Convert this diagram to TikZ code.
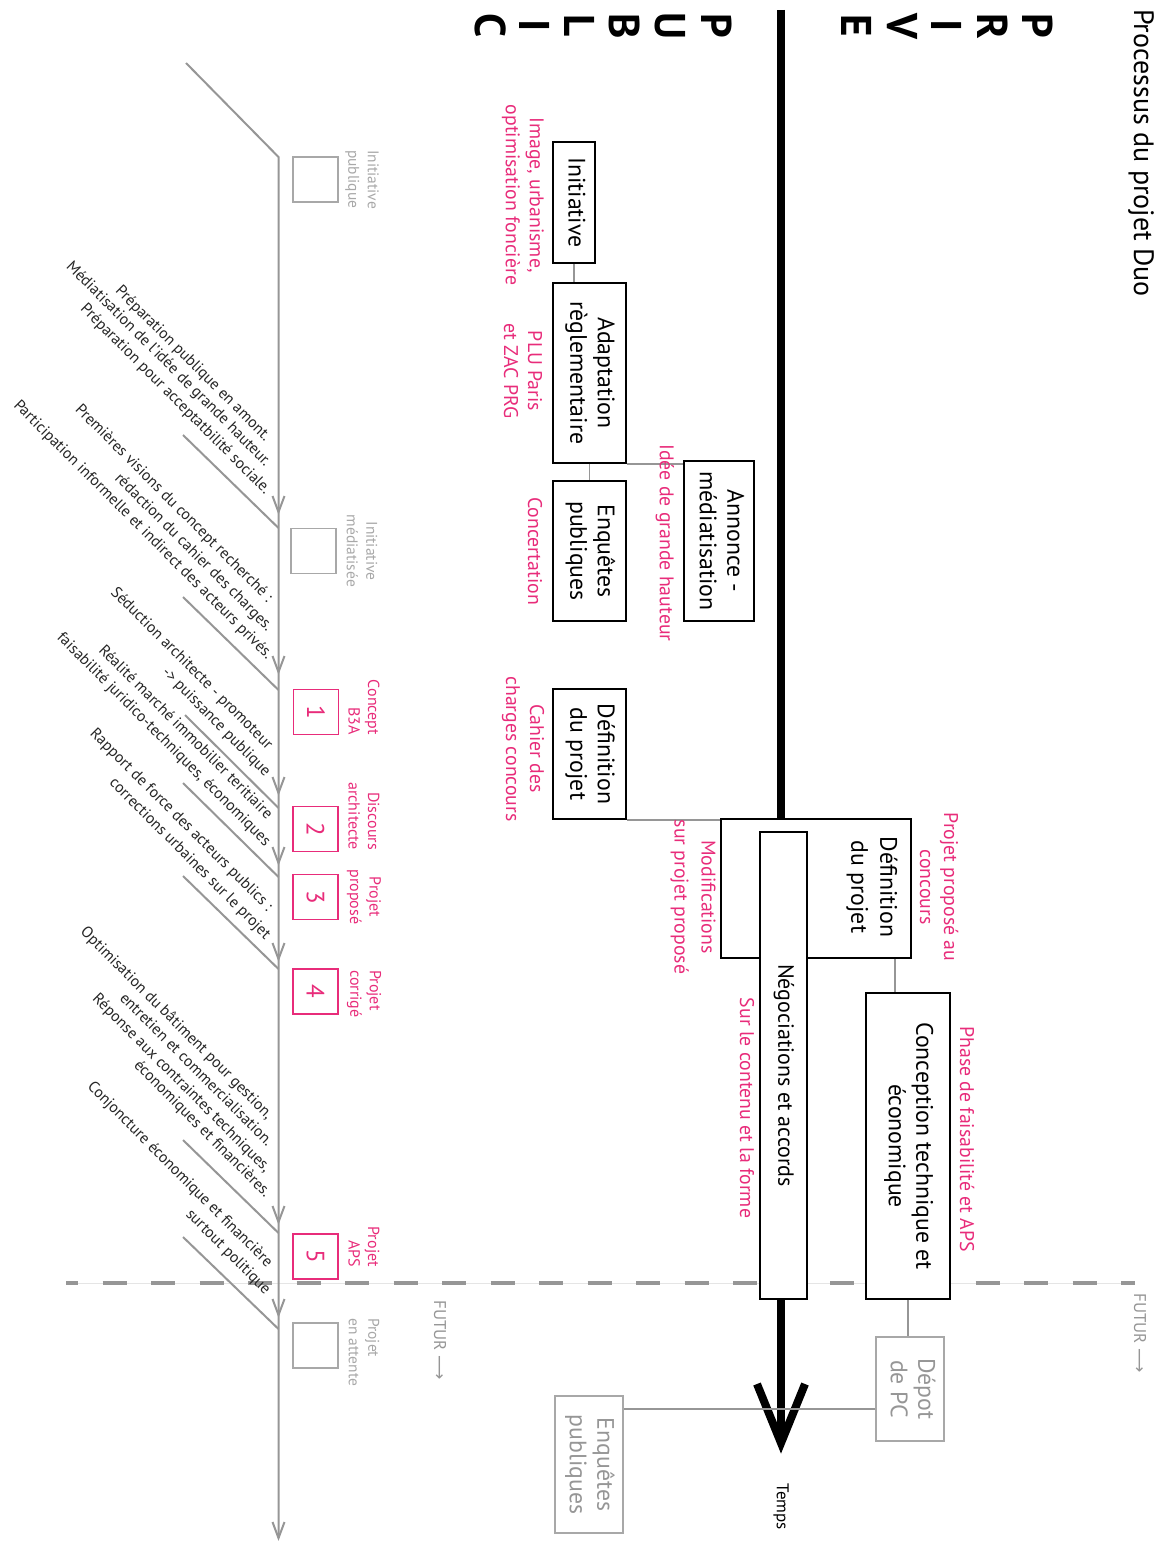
\documentclass[tikz,border=0pt]{standalone}
\usepackage{fontspec}
\setmainfont{PT Sans}
\newfontfamily\symfont{DejaVu Sans}
\usetikzlibrary{arrows.meta}
\definecolor{pk}{RGB}{232,44,122}
\definecolor{gl}{RGB}{150,150,150}
\definecolor{gt}{RGB}{168,168,168}
\newcommand{\rtxt}[2][c]{\rotatebox{-90}{\begin{tabular}{@{}#1@{}}#2\end{tabular}}}
\begin{document}
\begin{tikzpicture}[x=1pt,y=-1pt,
 bbox/.style={draw=black, line width=1.6pt, fill=white, inner sep=0pt, font=\fontsize{23.8}{27.5}\selectfont},
 gbox/.style={draw=gt, line width=1.6pt, fill=white, inner sep=0pt, text=gl, font=\fontsize{23.8}{27.5}\selectfont},
 sqg/.style={draw=gt, line width=1.6pt, minimum size=45pt, inner sep=0pt},
 pbox/.style={draw=pk, line width=1.6pt, minimum size=45pt, inner sep=0pt, text=pk, font=\fontsize{25}{25}\selectfont, rotate=-90},
 plab/.style={text=pk, rotate=-90, inner sep=0pt, font=\fontsize{19.8}{24}\selectfont, align=center},
 slab/.style={rotate=-90, inner sep=0pt, font=\fontsize{16}{19.5}\selectfont},
 dtext/.style={rotate=-45, anchor=base east, inner sep=0pt, text=black!85, font=\fontsize{15.7}{17}\selectfont},
 gline/.style={draw=gl, line width=2pt},
 conn/.style={draw=gl, line width=1.8pt},
 bigl/.style={rotate=-90, inner sep=0pt, font=\fontsize{43}{43}\selectfont\bfseries},
]
\useasboundingbox (0,0) rectangle (1164,1541);

% title and side letters
\node[rotate=-90, anchor=west, inner sep=0pt, font=\fontsize{28}{32}\selectfont] (title) at (1141,9) {Processus du projet Duo};
\foreach \l/\x in {P/1038,R/993,I/947,V/902,E/857} \node[bigl, name=pv\l] at (\x,26) {\l};
\foreach \l/\x/\n in {P/717/1,U/670/2,B/625/3,L/580/4,I/535/5,C/491/6} \node[bigl, name=pb\n] at (\x,26) {\l};

% dashed future line
\coordinate (dl) at (66,1283); \coordinate (dr) at (1135,1283);
\draw[gray!20, line width=0.8pt] (dl) -- (dr);
\draw[gl, line width=4pt, dash pattern=on 24pt off 24.5pt, dash phase=12pt] (dl) -- (dr);

% time line
\coordinate (tstart) at (781,10);
\coordinate (tend) at (781,1443);
\draw[line width=7.5pt] (tstart) -- (tend);
\draw[line width=8pt, line join=miter, miter limit=10] (757,1384) -- (tend) -- (805,1384);
\node[rotate=-90, inner sep=0pt, font=\fontsize{17}{17}\selectfont] (temps) at (781,1507) {Temps};

% boxes
\node[bbox, minimum width=42pt, minimum height=121pt] (init) at (574,202.5) {\rtxt{Initiative}};
\node[bbox, minimum width=73pt, minimum height=180pt] (adapt) at (589.5,373) {\rtxt{Adaptation\\règlementaire}};
\node[bbox, minimum width=73pt, minimum height=140pt] (enq) at (589.5,551) {\rtxt{Enquêtes\\publiques}};
\node[bbox, minimum width=70pt, minimum height=160pt] (annonce) at (719,541) {\rtxt{Annonce -\\médiatisation}};
\node[bbox, minimum width=73pt, minimum height=130pt] (defp) at (589.5,754) {\rtxt{Définition\\du projet}};
\node[bbox, minimum width=190pt, minimum height=139pt] (big) at (816,888.5) {};
\node[rotate=-90, align=center, inner sep=0pt, font=\fontsize{23.8}{29}\selectfont] (bigt) at (872,887) {Définition\\du projet};
\node[bbox, minimum width=47pt, minimum height=467pt, font=\fontsize{22}{26}\selectfont] (nego) at (783.5,1065.5) {\rtxt{\hspace*{20pt}Négociations et accords}};
\node[bbox, minimum width=84pt, minimum height=306pt] (concept) at (908,1146) {\rtxt{Conception technique et\\économique}};
\node[gbox, minimum width=68pt, minimum height=104pt] (depot) at (910,1389) {\rtxt{Dépot\\de PC}};
\node[gbox, minimum width=68pt, minimum height=137pt] (enq2) at (589,1464.5) {\rtxt{Enquêtes\\publiques}};

% connectors
\draw[conn] (init.south) -- (init.south |- adapt.north);
\draw[conn] (adapt.south) -- (enq.north);
\draw[conn] (adapt.south east) -- (adapt.south east -| annonce.west);
\draw[conn] (defp.south east) -- (defp.south east -| big.west);
\coordinate (cx1) at (895,0);
\draw[conn] (big.south -| cx1) -- (concept.north -| cx1);
\draw[conn] (concept.south) -- (concept.south |- depot.north);
\coordinate (cy1) at (0,1409);
\draw[conn] (depot.west |- cy1) -- (enq2.east |- cy1);

% pink labels
\node[plab] (p1) at (523,195) {Image, urbanisme,\\optimisation foncière};
\node[plab] (p2) at (523,371) {PLU Paris\\et ZAC PRG};
\node[plab] (p3) at (535,551) {Concertation};
\node[plab] (p4) at (665,543) {Idée de grande hauteur};
\node[plab] (p5) at (523,749) {Cahier des\\charges concours};
\node[plab, font=\fontsize{19.8}{27}\selectfont] (p6) at (693,897) {Modifications\\sur projet proposé};
\node[plab] (p7) at (939,887) {Projet proposé au\\concours};
\node[plab] (p8) at (747,1108) {Sur le contenu et la forme};
\node[plab] (p9) at (967,1139) {Phase de faisabilité et APS};

% fishbone
\coordinate (j0) at (278.5,157); \coordinate (d0) at (186,63);
\coordinate (j1) at (278.5,528); \coordinate (d1) at (183,435);
\coordinate (j2) at (278.5,690); \coordinate (d2) at (183,597);
\coordinate (j3) at (278.5,808); \coordinate (d3) at (185,715);
\coordinate (j4) at (278.5,877); \coordinate (d4) at (183,783);
\coordinate (j5) at (278.5,969); \coordinate (d5) at (183,876);
\coordinate (j6) at (278.5,1233); \coordinate (d6) at (183,1140);
\coordinate (j7) at (278.5,1329); \coordinate (d7) at (183,1237);
\coordinate (fend) at (278.5,1538);
\draw[gline] (d0) -- (j0) -- (fend);
\foreach \k in {1,...,7} \draw[gline] (d\k) -- (j\k);
\foreach \y [count=\i] in {512,672,793,863,959,1222,1315,1538} {
  \coordinate (a\i) at (278.5,\y);
  \draw[gline] ([shift={(-6,-16)}]a\i) -- (a\i) -- ([shift={(6,-16)}]a\i);
}

% small squares
\node[sqg] (s0) at (315.5,179.5) {};
\node[sqg] (s1) at (313.5,551) {};
\node[pbox] (b1) at (316,712) {1};
\node[pbox] (b2) at (315.5,829) {2};
\node[pbox] (b3) at (315.5,897) {3};
\node[pbox] (b4) at (315.5,991.5) {4};
\node[pbox] (b5) at (315.5,1256.5) {5};
\node[sqg] (s6) at (315.5,1345.5) {};

\node[slab, text=gt, anchor=west, align=left, font=\fontsize{15.5}{19.5}\selectfont] (l0) at (362,150) {Initiative\\publique};
\node[slab, text=gt, align=center, font=\fontsize{15.5}{19.5}\selectfont] (l1) at (362,551) {Initiative\\médiatisée};
\node[slab, text=pk, anchor=east, align=right] (l2) at (364,735) {Concept\\B3A};
\node[slab, text=pk, anchor=east, align=right] (l3) at (364,850) {Discours\\architecte};
\node[slab, text=pk, align=center] (l4) at (364,897) {Projet\\proposé};
\node[slab, text=pk, anchor=west, align=left] (l5) at (364,970) {Projet\\corrigé};
\node[slab, text=pk, anchor=east, align=right] (l6) at (364,1267) {Projet\\APS};
\node[slab, text=gt, anchor=west, align=left, font=\fontsize{15.5}{19.5}\selectfont] (l7) at (364,1318) {Projet\\en attente};

\node[rotate=-90, anchor=west, inner sep=0pt, text=gl, font=\fontsize{17}{17}\selectfont] (fut1) at (1140,1293) {FUTUR {\symfont ⟶}};
\node[rotate=-90, anchor=west, inner sep=0pt, text=gl, font=\fontsize{17}{17}\selectfont] (fut2) at (440,1300) {FUTUR {\symfont ⟶}};

% diagonal texts
\node[dtext] (t1) at (265,442) {Préparation publique en amont.};
\node[dtext] (t2) at (265,467) {Médiatisation de l’idée de grande hauteur.};
\node[dtext] (t3) at (265,495) {Préparation pour acceptatbilité sociale.};
\node[dtext] (t4) at (267,603) {Premières visions du concept recherché :};
\node[dtext] (t5) at (267,632) {rédaction du cahier des charges.};
\node[dtext] (t6) at (267,660) {Participation informelle et indirect des acteurs privés.};
\node[dtext] (t7) at (267,750) {Séduction architecte - promoteur};
\node[dtext] (t8) at (265,777) {-> puissance publique};
\node[dtext] (t9) at (267,820) {Réalité marché immobilier teritiaire};
\node[dtext] (t10) at (265,847) {faisabilité juridico-techniques, économiques};
\node[dtext] (t11) at (267,912) {Rapport de force des acteurs publics :};
\node[dtext] (t12) at (265,940) {corrections urbaines sur le projet};
\node[dtext] (t13) at (267,1120) {Optimisation du bâtiment pour gestion,};
\node[dtext] (t14) at (267,1147) {entretien et commercialisation.};
\node[dtext] (t15) at (265,1173) {Réponse aux contraintes techniques,};
\node[dtext] (t16) at (265,1198) {économiques et financières.};
\node[dtext] (t17) at (267,1268) {Conjoncture économique et financière};
\node[dtext] (t18) at (265,1295) {surtout politique};
\end{tikzpicture}
\end{document}
